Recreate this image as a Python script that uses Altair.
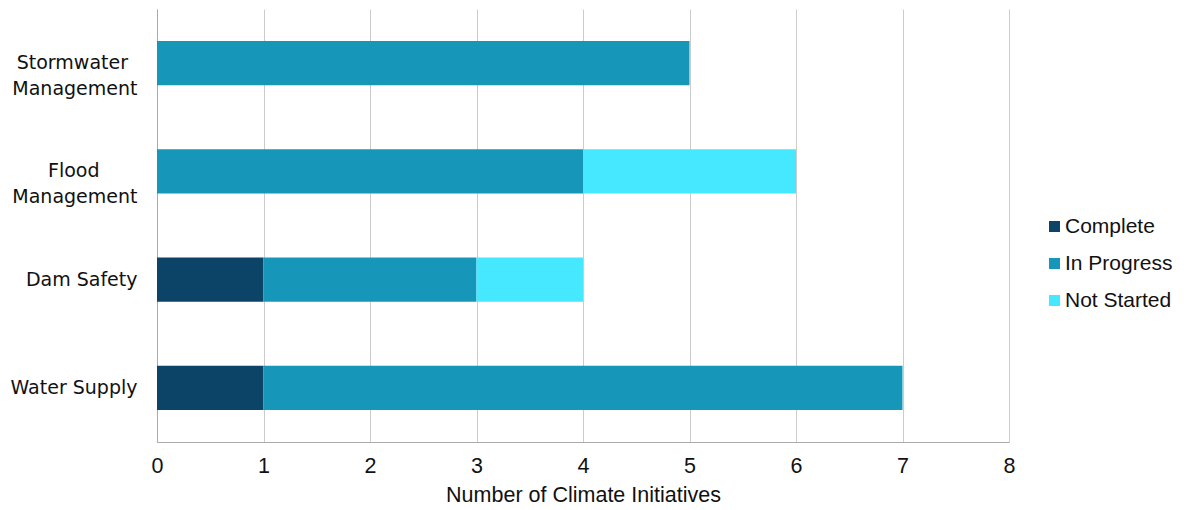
import altair as alt
import pandas as pd

categories = ["Stormwater Management", "Flood Management", "Dam Safety", "Water Supply"]
statuses = ["Complete", "In Progress", "Not Started"]
complete = [0, 0, 1, 1]
in_progress = [5, 4, 2, 6]
not_started = [0, 2, 1, 0]
colors = ["#0B4466", "#1697BA", "#45E8FF"]

rows = []
for i, c in enumerate(categories):
    for s, vals in zip(statuses, [complete, in_progress, not_started]):
        if vals[i] > 0:
            rows.append({"category": c, "status": s, "value": vals[i], "order": statuses.index(s)})
df = pd.DataFrame(rows)

label_expr = (
    "datum.label == 'Stormwater Management' ? ['Stormwater\u2002\u200b', 'Management'] : "
    "datum.label == 'Flood Management' ? ['Flood\u2003\u2003\u200b', 'Management'] : datum.label"
)

chart = alt.Chart(df).mark_bar().encode(
    y=alt.Y("category:N", sort=categories, title=None,
            scale=alt.Scale(paddingInner=0.59, paddingOuter=0.295),
            axis=alt.Axis(labelExpr=label_expr, labelFont="DejaVu Sans", labelFontSize=19,
                          labelColor="#111", ticks=False, domainColor="#aaa",
                          labelPadding=20, labelLineHeight=26, grid=False)),
    x=alt.X("value:Q", stack="zero", title="Number of Climate Initiatives",
            scale=alt.Scale(domain=[0, 8]),
            axis=alt.Axis(values=[0, 1, 2, 3, 4, 5, 6, 7, 8], labelFont="Liberation Sans",
                          labelFontSize=21.5, labelColor="#111", ticks=False, labelPadding=13,
                          labelFlush=False,
                          titleFont="Liberation Sans", titleFontSize=21.5, titleFontWeight="normal",
                          titleColor="#111", titlePadding=8, domainColor="#aaa",
                          gridColor="#cccccc")),
    color=alt.Color("status:N", sort=statuses, title=None,
                    scale=alt.Scale(domain=statuses, range=colors),
                    legend=alt.Legend(orient="none", legendX=887, legendY=207,
                                      symbolType="square", symbolSize=121, symbolStrokeWidth=0,
                                      labelFont="Liberation Sans", labelFontSize=21,
                                      labelColor="#111", rowPadding=15, labelOffset=0)),
    order=alt.Order("order:Q"),
).properties(
    width=852, height=433,
    autosize=alt.AutoSizeParams(type="none"),
    padding={"left": 149, "top": 1, "right": 166, "bottom": 68},
).configure_view(stroke=None)

chart.save("out.html", embed_options={"renderer": "svg", "actions": False})
